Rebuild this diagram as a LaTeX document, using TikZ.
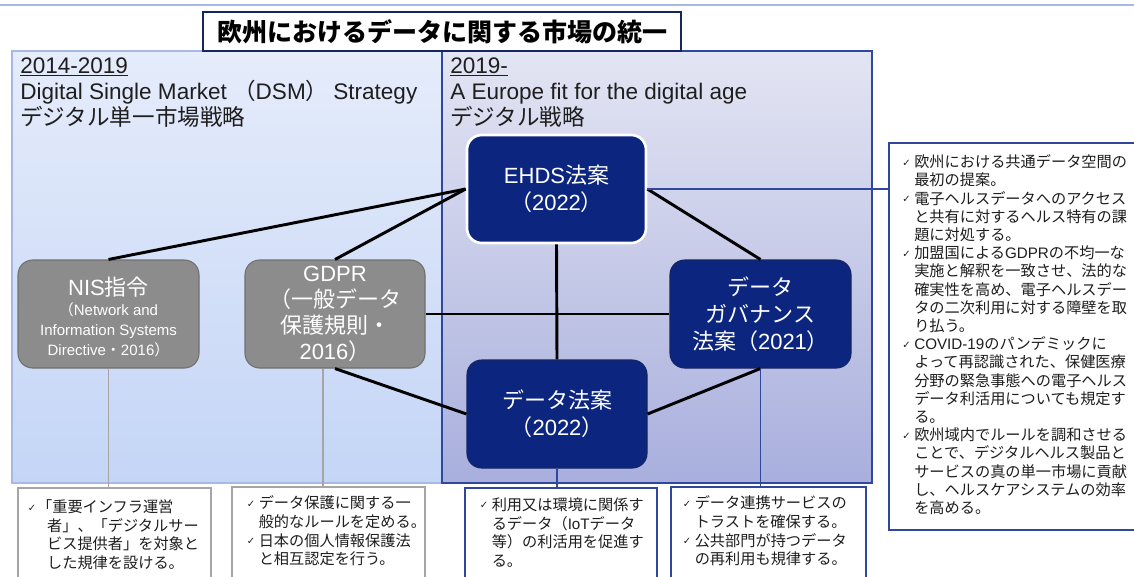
\documentclass[tikz,border=0pt]{standalone}
\usepackage{fontspec}
\setmainfont{Liberation Sans}
\newfontfamily\cjkfnt{Noto Sans CJK JP}
\newfontfamily\latfnt{Liberation Sans}
\newfontfamily\dejavu{DejaVu Sans}
\usetikzlibrary{shadows}

% automatic switching between Latin and CJK fonts
\XeTeXinterchartokenstate=1
\newXeTeXintercharclass\cjkclass
\newXeTeXintercharclass\chkclass
\makeatletter
\newcount\my@c
\def\my@setrange#1#2{\my@c=#1\relax
  \loop\XeTeXcharclass\my@c=\cjkclass\relax\advance\my@c 1\relax
  \ifnum\my@c<#2\relax\repeat}
\my@setrange{"3000}{"3100}
\my@setrange{"3400}{"4DC0}
\my@setrange{"4E00}{"A000}
\my@setrange{"F900}{"FB00}
\my@setrange{"FF00}{"FFF0}
\makeatother
\XeTeXcharclass"2713=\chkclass
\XeTeXinterchartoks 0 \cjkclass = {\cjkfnt}
\XeTeXinterchartoks 4095 \cjkclass = {\cjkfnt}
\XeTeXinterchartoks \chkclass \cjkclass = {\cjkfnt}
\XeTeXinterchartoks \cjkclass 0 = {\latfnt}
\XeTeXinterchartoks 4095 0 = {\latfnt}
\XeTeXinterchartoks \chkclass 0 = {\latfnt}

\newcommand\ck[1][9pt]{\makebox[#1][l]{\raisebox{1.2pt}{\dejavu\fontsize{7.5}{9}\selectfont ✓}}}
\newcommand\ind[1][9pt]{\hspace*{#1}}

\definecolor{navyc}{RGB}{12,38,128}
\definecolor{navyb}{RGB}{22,36,96}
\definecolor{grayf}{RGB}{140,140,140}
\definecolor{grayb}{RGB}{112,112,112}
\definecolor{blueb}{RGB}{47,72,158}
\definecolor{ltblue}{RGB}{165,185,228}
\definecolor{lpTop}{RGB}{229,236,251}
\definecolor{lpBot}{RGB}{196,213,246}
\definecolor{rpTop}{RGB}{227,229,243}
\definecolor{rpBot}{RGB}{168,175,221}
\definecolor{graybox}{RGB}{165,165,165}
\definecolor{txt}{RGB}{30,30,30}

\begin{document}
\begin{tikzpicture}[x=0.75pt,y=-0.75pt,
  wh/.style 2 args={minimum width=#1*0.75pt, minimum height=#2*0.75pt},
  titlebox/.style={draw=navyb, line width=1.5pt, fill=white, inner sep=0, text=black,
    font=\bfseries\fontsize{18.75}{22}\selectfont},
  hdr/.style={anchor=north west, inner sep=0, align=left, text=txt,
    font=\fontsize{16.9}{19.5}\selectfont},
  navy/.style={rounded corners=11pt, fill=navyc, draw=navyb, line width=0.8pt, text=white,
    align=center, inner sep=0, font=\fontsize{16.5}{20.25}\selectfont},
  ehdsn/.style={draw=white, line width=2pt,
    drop shadow={opacity=0.3, shadow xshift=0.9pt, shadow yshift=-0.9pt}},
  grayn/.style={rounded corners=11pt, fill=grayf, draw=grayb, line width=0.8pt,
    text=white, align=center, inner sep=0, font=\fontsize{16.5}{19.5}\selectfont},
  link/.style={line width=2.2pt, black},
  thinb/.style={line width=1.1pt, blueb},
  thing/.style={line width=1.1pt, graybox},
  gbox/.style={draw=graybox, line width=1.4pt, fill=white, inner sep=0},
  bbox/.style={draw=blueb, line width=1.4pt, fill=white, inner sep=0},
  btext/.style={anchor=north west, inner sep=0, align=left, text=txt,
    font=\fontsize{11.4}{14}\selectfont},
]
\useasboundingbox (0,0) rectangle (1134,576);
\clip (0,0) rectangle (1134,576);
\fill[white] (0,0) rectangle (1134,576);
\draw[ltblue, line width=1.5pt] (0,5) -- (1134,5);

% panels
\shade[top color=lpTop, bottom color=lpBot] (12,51) rectangle (442,483);
\draw[ltblue, line width=0.9pt] (12,51) rectangle (442,483);
\shade[top color=rpTop, bottom color=rpBot] (442,51) rectangle (872,483);
\draw[blueb, line width=1pt] (442,51) rectangle (872,483);

\node[titlebox, wh={478}{39}] (title) at (442,31.5) {欧州におけるデータに関する市場の統一};

\node[hdr] (lh) at (20,57) {\underline{2014-2019}\\Digital Single Market （DSM） Strategy\\デジタル単一市場戦略};
\node[hdr] (rh) at (450,57) {\underline{2019-}\\A Europe fit for the digital age\\デジタル戦略};

% law nodes
\node[navy, ehdsn, wh={179}{108}] (ehds) at (556.5,189) {EHDS法案\\（2022）};
\node[navy, wh={181}{108}] (dg) at (760.5,314) {データ\\ガバナンス\\法案（2021）};
\node[navy, wh={180}{108}] (dh) at (557,414) {データ法案\\（2022）};
\node[grayn, font=\fontsize{16.5}{15}\selectfont, wh={181}{108}] (nis) at (108.5,314)
  {\rule{0pt}{19pt}NIS指令\\{\fontsize{11.25}{15}\selectfont （Network and}\\{\fontsize{11.25}{15}\selectfont Information Systems}\\{\fontsize{11.25}{15}\selectfont Directive・2016）}};
\node[grayn, wh={180}{108}] (gdpr) at (335,314) {GDPR\\（一般データ\\保護規則・\\2016）};

% connectors
\draw[link] (nis.north) -- (ehds.west);
\draw[link] (gdpr.north) -- (ehds.west);
\draw[link] (gdpr.east) -- (dg.west);
\draw[link] (gdpr.south) -- (dh.west);
\draw[link] (ehds.south) -- (dh.north);
\draw[link] (ehds.east) -- (dg.north);
\draw[link] (dg.south) -- (dh.east);

% description boxes
\node[gbox, wh={193}{112}] (b1) at (114.5,544) {};
\node[gbox, wh={193}{113}] (b2) at (328.5,543.5) {};
\node[bbox, wh={192}{112}] (b3) at (561,544) {};
\node[bbox, wh={195}{113}] (b4) at (768.5,543.5) {};
\node[bbox, wh={256}{387}] (rb) at (1017,336.5) {};

\draw[thing] (nis.south) -- (nis.south |- b1.north);
\draw[thing] ([xshift=-9pt]gdpr.south) -- ([xshift=-9pt]gdpr.south |- b2.north);
\draw[thinb] (dh.south) -- (dh.south |- b3.north);
\draw[thinb] (dg.south) -- (dg.south |- b4.north);
\draw[thinb] (ehds.east) -- (ehds.east -| rb.west);

\node[btext] (t1) at (27.5,499.5) {\ck[7pt]「重要インフラ運営\\\ind[14.5pt]者」、「デジタルサー\\\ind[14.5pt]ビス提供者」を対象と\\\ind[14.5pt]した規律を設ける。};
\node[btext] (t2) at (246.5,495.5) {\ck データ保護に関する一\\\ind 般的なルールを定める。\\\ck 日本の個人情報保護法\\\ind と相互認定を行う。};
\node[btext] (t3) at (479.5,497.5) {\ck 利用又は環境に関係す\\\ind るデータ（IoTデータ\\\ind 等）の利活用を促進す\\\ind る。};
\node[btext] (t4) at (682.5,495.5) {\ck データ連携サービスの\\\ind トラストを確保する。\\\ck 公共部門が持つデータ\\\ind の再利用も規律する。};
\node[btext, font=\fontsize{11.4}{13.65}\selectfont] (tr) at (902,154.5) {\ck 欧州における共通データ空間の\\
\ind 最初の提案。\\
\ck 電子ヘルスデータへのアクセス\\
\ind と共有に対するヘルス特有の課\\
\ind 題に対処する。\\
\ck 加盟国によるGDPRの不均一な\\
\ind 実施と解釈を一致させ、法的な\\
\ind 確実性を高め、電子ヘルスデー\\
\ind タの二次利用に対する障壁を取\\
\ind り払う。\\
\ck COVID-19のパンデミックに\\
\ind よって再認識された、保健医療\\
\ind 分野の緊急事態への電子ヘルス\\
\ind データ利活用についても規定す\\
\ind る。\\
\ck 欧州域内でルールを調和させる\\
\ind ことで、デジタルヘルス製品と\\
\ind サービスの真の単一市場に貢献\\
\ind し、ヘルスケアシステムの効率\\
\ind を高める。};
\end{tikzpicture}
\end{document}
